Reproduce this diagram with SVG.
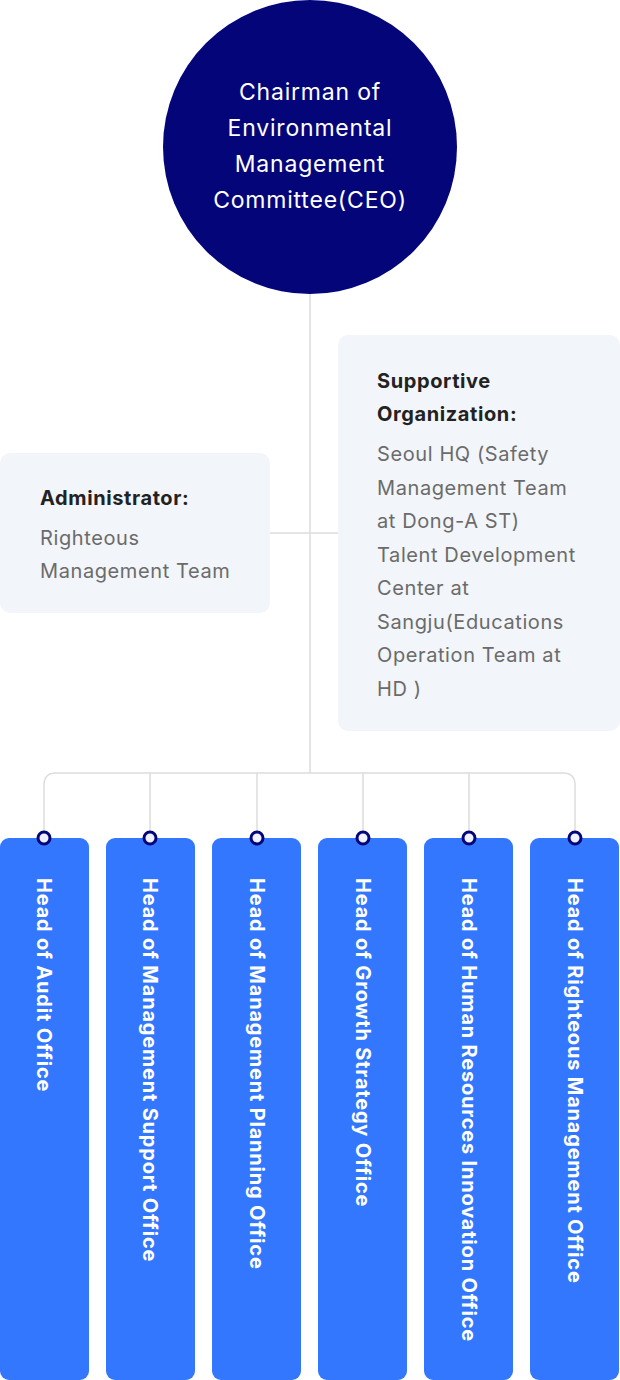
<svg xmlns="http://www.w3.org/2000/svg" width="620" height="1380" viewBox="0 0 620 1380">
<style>
.conn{fill:none;stroke:#dddddd;stroke-width:1.5}
.box{fill:#f2f5f9}
.bar{fill:#3377ff}
.dot{fill:#eef2ff;stroke:#05057a;stroke-width:3}
.ceo{font-family:Inter,"Liberation Sans",sans-serif;font-size:23px;letter-spacing:0.8px;fill:#ffffff;text-anchor:middle}
.hd{font-family:Inter,"Liberation Sans",sans-serif;font-size:20px;letter-spacing:0.6px;font-weight:700;fill:#222222}
.tx{font-family:Inter,"Liberation Sans",sans-serif;font-size:20px;letter-spacing:0.6px;fill:#6b6b6b}
.bt{font-family:Inter,"Liberation Sans",sans-serif;font-size:20px;letter-spacing:0.8px;font-weight:700;fill:#ffffff;dominant-baseline:central}
</style>
<g id="connectors">
<line class="conn" x1="310" y1="290" x2="310" y2="773"/>
<line class="conn" x1="270" y1="533" x2="338" y2="533"/>
<path class="conn" d="M44 838 V785 Q44 773 56 773 H563 Q575 773 575 785 V838"/>
<line class="conn" x1="150" y1="773" x2="150" y2="838"/>
<line class="conn" x1="257" y1="773" x2="257" y2="838"/>
<line class="conn" x1="363" y1="773" x2="363" y2="838"/>
<line class="conn" x1="469" y1="773" x2="469" y2="838"/>
</g>
<g id="ceo">
<circle cx="310" cy="147" r="147" fill="#05057a"/>
<text class="ceo" x="310" y="100">Chairman of</text>
<text class="ceo" x="310" y="136">Environmental</text>
<text class="ceo" x="310" y="172">Management</text>
<text class="ceo" x="310" y="208">Committee(CEO)</text>
</g>
<g id="administrator">
<rect class="box" x="0" y="453" width="270" height="160" rx="10"/>
<text class="hd" x="40" y="505">Administrator:</text>
<text class="tx" x="40" y="545">Righteous</text>
<text class="tx" x="40" y="578">Management Team</text>
</g>
<g id="supportive">
<rect class="box" x="338" y="335" width="282" height="396" rx="10"/>
<text class="hd" x="377" y="388">Supportive</text>
<text class="hd" x="377" y="421">Organization:</text>
<text class="tx" x="377" y="461">Seoul HQ (Safety</text>
<text class="tx" x="377" y="495">Management Team</text>
<text class="tx" x="377" y="528">at Dong-A ST)</text>
<text class="tx" x="377" y="562">Talent Development</text>
<text class="tx" x="377" y="595">Center at</text>
<text class="tx" x="377" y="629">Sangju(Educations</text>
<text class="tx" x="377" y="662">Operation Team at</text>
<text class="tx" x="377" y="696">HD )</text>
</g>
<g id="audit">
<rect class="bar" x="0" y="838" width="89" height="542" rx="9"/>
<circle class="dot" cx="44" cy="838" r="6"/>
<text class="bt" transform="translate(44,878) rotate(90)">Head of Audit Office</text>
</g>
<g id="mgmt-support">
<rect class="bar" x="106" y="838" width="89" height="542" rx="9"/>
<circle class="dot" cx="150" cy="838" r="6"/>
<text class="bt" transform="translate(150,878) rotate(90)">Head of Management Support Office</text>
</g>
<g id="mgmt-planning">
<rect class="bar" x="212" y="838" width="89" height="542" rx="9"/>
<circle class="dot" cx="257" cy="838" r="6"/>
<text class="bt" transform="translate(257,878) rotate(90)">Head of Management Planning Office</text>
</g>
<g id="growth">
<rect class="bar" x="318" y="838" width="89" height="542" rx="9"/>
<circle class="dot" cx="363" cy="838" r="6"/>
<text class="bt" transform="translate(363,878) rotate(90)">Head of Growth Strategy Office</text>
</g>
<g id="hr">
<rect class="bar" x="424" y="838" width="89" height="542" rx="9"/>
<circle class="dot" cx="469" cy="838" r="6"/>
<text class="bt" transform="translate(469,878) rotate(90)">Head of Human Resources Innovation Office</text>
</g>
<g id="righteous">
<rect class="bar" x="530" y="838" width="89" height="542" rx="9"/>
<circle class="dot" cx="575" cy="838" r="6"/>
<text class="bt" transform="translate(575,878) rotate(90)">Head of Righteous Management Office</text>
</g>
</svg>
